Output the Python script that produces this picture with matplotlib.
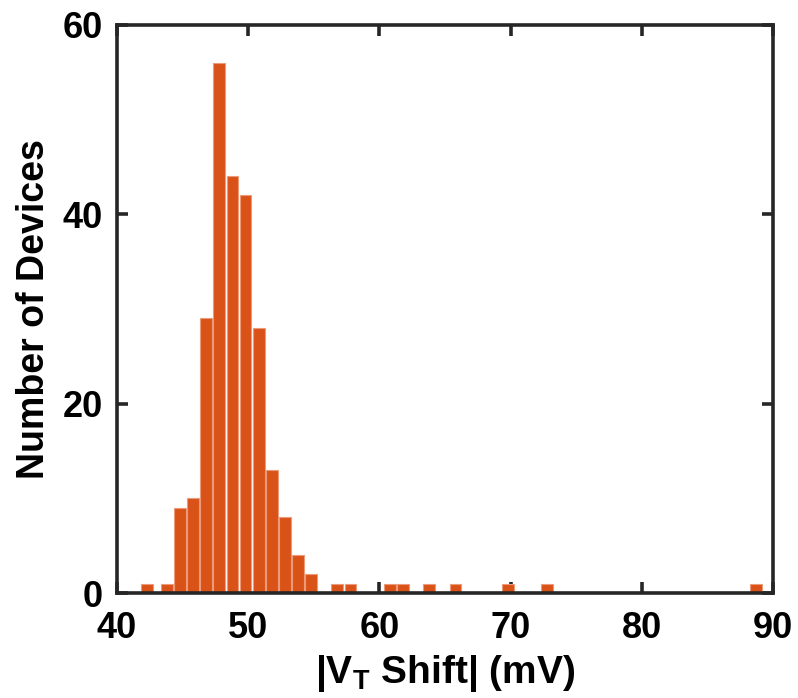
import matplotlib
matplotlib.use("Agg")
import matplotlib.pyplot as plt

# Histogram of threshold-voltage shift magnitudes (bin centres in mV, device counts)
shift_mv = [42.3, 43.8, 44.8, 45.8, 46.8, 47.8, 48.8, 49.8, 50.8, 51.8, 52.8,
            53.8, 54.8, 56.8, 57.8, 60.8, 61.8, 63.8, 65.8, 69.8, 72.8, 88.7]
n_devices = [1, 1, 9, 10, 29, 56, 44, 42, 28, 13, 8,
             4, 2, 1, 1, 1, 1, 1, 1, 1, 1, 1]

x_ticks = [40, 50, 60, 70, 80, 90]
y_ticks = [0, 20, 40, 60]

plt.rcParams["font.family"] = ["Liberation Sans", "DejaVu Sans"]
plt.rcParams["font.weight"] = "bold"
plt.rcParams["mathtext.fontset"] = "custom"
plt.rcParams["mathtext.rm"] = "Liberation Sans:bold"
plt.rcParams["mathtext.bf"] = "Liberation Sans:bold"
plt.rcParams["mathtext.it"] = "Liberation Sans:bold"

fig = plt.figure(figsize=(7.98, 6.98), dpi=100)
ax = fig.add_axes([0.1466, 0.1504, 0.822, 0.8138])

ax.bar(shift_mv, n_devices, width=0.9, color="#D95319",
       edgecolor="#EC9A78", linewidth=0.8, zorder=2)

ax.set_xlim(40, 90)
ax.set_ylim(0, 60)
ax.set_xticks(x_ticks)
ax.set_yticks(y_ticks)

for side in ("left", "right", "top", "bottom"):
    ax.spines[side].set_linewidth(2.6)
    ax.spines[side].set_color("#262626")
    ax.spines[side].set_zorder(3)

ax.tick_params(axis="both", which="major", direction="in", length=8, width=2.6,
               color="#262626", top=True, right=True, labelsize=26)
ax.tick_params(axis="x", pad=13)
ax.tick_params(axis="y", pad=10)
for lbl in ax.get_xticklabels() + ax.get_yticklabels():
    lbl.set_fontweight("bold")

ax.set_xlabel(r"|V$_\mathbf{T}$ Shift| (mV)", fontsize=28, fontweight="bold", labelpad=5)
ax.set_ylabel("Number of Devices", fontsize=27, fontweight="bold", labelpad=8)

fig.savefig("out.png", dpi=100)
